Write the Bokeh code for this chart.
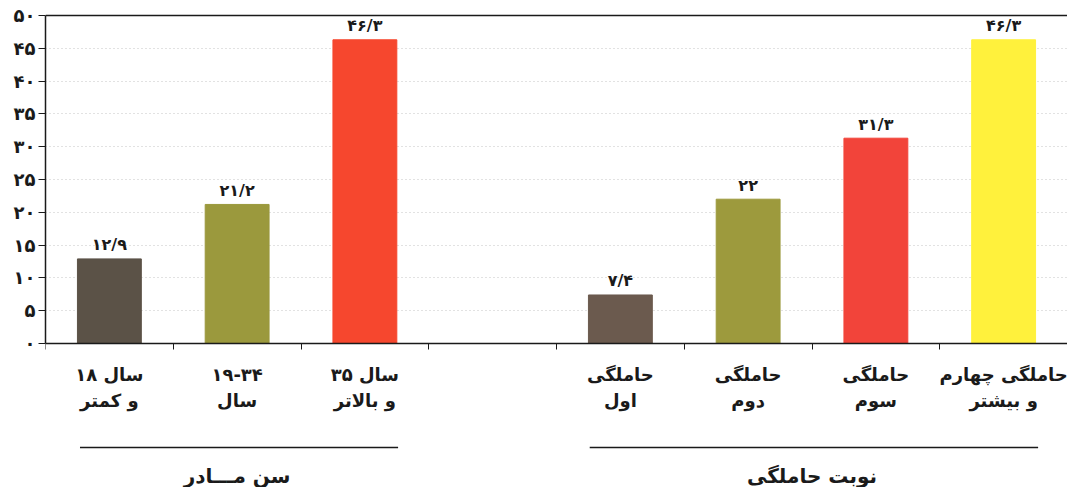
from bokeh.plotting import figure
from bokeh.models import FixedTicker, Span, ColumnDataSource, Range1d
from bokeh.core.properties import value
from bokeh.embed import file_html
from bokeh.resources import INLINE

# ---- data ----
LRE, PDF = "\u202a", "\u202c"   # keep number on the left, as printed in the reference
age_line1 = [LRE + "۱۸ سال" + PDF, "۱۹-۳۴", LRE + "۳۵ سال" + PDF]
age_line2 = ["و کمتر", "سال", "و بالاتر"]
age_values = [12.9, 21.2, 46.3]
age_value_labels = ["۱۲/۹", "۲۱/۲", "۴۶/۳"]
age_colors = ["#5b5247", "#9b993d", "#f6472e"]

order_line1 = ["حاملگی", "حاملگی", "حاملگی", "حاملگی چهارم"]
order_line2 = ["اول", "دوم", "سوم", "و بیشتر"]
order_values = [7.4, 22, 31.3, 46.3]
order_value_labels = ["۷/۴", "۲۲", "۳۱/۳", "۴۶/۳"]
order_colors = ["#6b5a4e", "#9d9a3d", "#f2443a", "#fff13c"]

group_titles = ["سن مـــادر", "نوبت حاملگی"]

y_ticks = [0, 5, 10, 15, 20, 25, 30, 35, 40, 45, 50]
y_tick_labels = ["۰", "۵", "۱۰", "۱۵", "۲۰", "۲۵", "۳۰", "۳۵", "۴۰", "۴۵", "۵۰"]

FONT = "DejaVu Sans"

# slots: age group in slots 0..2, empty slot 3, pregnancy order in slots 4..7
age_x = [i + 0.5 for i in range(len(age_values))]
gap = 1
order_x = [len(age_values) + gap + i + 0.5 for i in range(len(order_values))]
n_slots = len(age_values) + gap + len(order_values)

xs = age_x + order_x
vals = age_values + order_values
cols = age_colors + order_colors
vlabels = age_value_labels + order_value_labels
line1 = age_line1 + order_line1
line2 = age_line2 + order_line2

src = ColumnDataSource(dict(x=xs, top=vals, color=cols, vlab=vlabels,
                            l1=line1, l2=line2,
                            vy=[v + 0.7 for v in vals],
                            y1=[-4.8] * len(xs), y2=[-8.7] * len(xs)))

p = figure(width=1067, height=487, output_backend="svg", toolbar_location=None,
           x_range=Range1d(0, n_slots), y_range=Range1d(-21.95, 52.29),
           min_border_left=45, min_border_right=0, min_border_top=0,
           min_border_bottom=0)
p.outline_line_color = None
p.background_fill_color = "white"
p.border_fill_color = "white"

# grid
p.xgrid.visible = False
p.ygrid.grid_line_color = "#c4c4c4"
p.ygrid.grid_line_dash = "1 3"
p.ygrid.grid_line_width = 1

# y axis
p.yaxis.ticker = FixedTicker(ticks=y_ticks)
p.yaxis.bounds = (0, 50)
p.yaxis.major_label_overrides = {t: l for t, l in zip(y_ticks, y_tick_labels)}
p.yaxis.major_label_text_font = FONT
p.yaxis.major_label_text_font_style = "bold"
p.yaxis.major_label_text_font_size = "18px"
p.yaxis.major_label_text_color = "#1a1a1a"
p.yaxis.major_tick_out = 7
p.yaxis.major_tick_in = 0
p.yaxis.minor_tick_out = 0
p.yaxis.minor_tick_in = 0
p.yaxis.major_label_standoff = 3
p.yaxis.axis_line_width = 1.5
p.yaxis.axis_line_color = "#1a1a1a"
p.yaxis.major_tick_line_color = "#1a1a1a"

# x axis at y = 0 (boundary ticks, no labels)
x_ticks = list(range(n_slots + 1))
p.xaxis.fixed_location = 0
p.xaxis.ticker = FixedTicker(ticks=x_ticks)
p.xaxis.major_label_overrides = {t: "" for t in x_ticks}
p.xaxis.major_tick_out = 6
p.xaxis.major_tick_in = 0
p.xaxis.minor_tick_out = 0
p.xaxis.minor_tick_in = 0
p.xaxis.axis_line_width = 1.5
p.xaxis.axis_line_color = "#1a1a1a"
p.xaxis.major_tick_line_color = "#1a1a1a"

# top border
p.add_layout(Span(location=50, dimension="width", line_color="#1a1a1a", line_width=1.5))

# bars
p.vbar(x="x", top="top", bottom=0, width=0.5, color="color", source=src)

# value labels
p.text(x="x", y="vy", text="vlab", source=src, text_align="center",
       text_baseline="bottom", text_font=value(FONT), text_font_style="bold",
       text_font_size="16px", text_color="#1a1a1a")

# category labels
for col, ycol in (("l1", "y1"), ("l2", "y2")):
    p.text(x="x", y=ycol, text=col, source=src, text_align="center",
           text_baseline="middle", text_font=value(FONT), text_font_style="bold",
           text_font_size="18px", text_color="#1a1a1a")

# group separators and titles
g_x0 = [age_x[0] - 0.23, order_x[0] - 0.24]
g_x1 = [age_x[-1] + 0.26, order_x[-1] + 0.27]
g_cx = [sum(age_x) / len(age_x), sum(order_x) / len(order_x)]
p.segment(x0=g_x0, y0=[-15.85] * 2, x1=g_x1, y1=[-15.85] * 2,
          line_color="#1a1a1a", line_width=1.5)
p.text(x=g_cx, y=[-20.2] * 2, text=group_titles, text_align="center",
       text_baseline="middle", text_font=value(FONT), text_font_style="bold",
       text_font_size="20px", text_color="#1a1a1a")

open("out.html", "w").write(file_html(p, INLINE))
